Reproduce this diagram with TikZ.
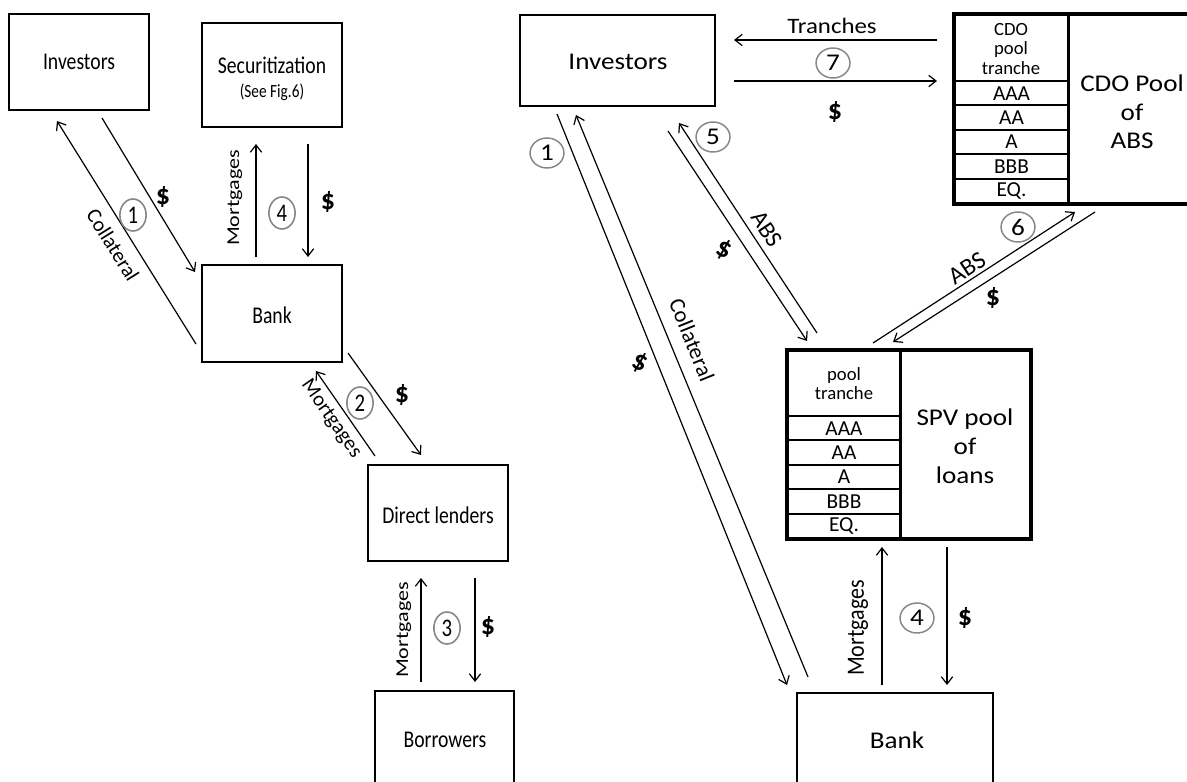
\documentclass[tikz,border=0pt]{standalone}
\usepackage{fontspec}
\setmainfont{Carlito}
\usetikzlibrary{arrows.meta,fit}
\definecolor{numgray}{RGB}{135,135,135}
\begin{document}
\begin{tikzpicture}[x=0.75pt,y=-0.75pt,
  box/.style={draw, line width=1.9pt, inner sep=0pt},
  cell/.style={draw, line width=1.4pt, inner sep=0pt},
  Lsc/.style={xscale=0.82},
  Rsc/.style={xscale=1.13},
  txt/.style={font=\fontsize{18}{21}\selectfont, inner sep=0pt, align=center},
  small/.style={font=\fontsize{14}{14.5}\selectfont, inner sep=0pt, align=center},
  tr/.style={font=\fontsize{16}{18}\selectfont, inner sep=0pt},
  lab/.style={font=\fontsize{16.5}{19}\selectfont, inner sep=0pt},
  dol/.style={font=\fontsize{21}{24}\selectfont\bfseries, inner sep=0pt},
  numL/.style={Lsc, circle, draw=numgray, line width=1.2pt, inner sep=0pt, minimum size=24pt, font=\fontsize{19}{22}\selectfont},
  numR/.style={Rsc, circle, draw=numgray, line width=1.1pt, inner sep=0pt, minimum size=22.5pt, font=\fontsize{18}{21}\selectfont},
  arr/.style={line width=0.9pt, -{Straight Barb[length=5.5pt,width=8.5pt]}}]
\useasboundingbox (0,0) rectangle (1187,781);
\fill[white] (0,0) rectangle (1187,781);
\clip (0,0) rectangle (1187,781);

% ---------------- LEFT PART ----------------
\node[box, fit={(9,14) (149,110)}] (inv1) {};
\node[Lsc, txt] (inv1t) at (79,62) {Investors};
\node[box, fit={(202,23) (342,127)}] (sec) {};
\node[Lsc, txt] (sect) at (272,65) {Securitization};
\node[Lsc, txt, font=\fontsize{14}{16}\selectfont] (secs) at (272,92) {(See Fig.6)};
\node[box, fit={(202,265) (342,362)}] (bank1) {};
\node[Lsc, txt] (bank1t) at (272,315) {Bank};
\node[box, fit={(368,465) (508,561)}] (dl) {};
\node[Lsc, txt] (dlt) at (438,515) {Direct lenders};
\node[box, fit={(375,691) (514,795)}] (bor) {};
\node[Lsc, txt] (bort) at (445,740) {Borrowers};

% arrows 1 (left)
\coordinate (l1a) at (196,344); \coordinate (l1b) at (57,121);
\coordinate (l1c) at (102,118); \coordinate (l1d) at (195,272);
\draw[arr] (l1a) -- (l1b);
\draw[arr] (l1c) -- (l1d);
\node[numL] (l1n) at (133,215) {1};
\node[dol] (l1s) at (163,197) {\$};
\node[lab, font=\fontsize{15.7}{18}\selectfont, rotate=-58] (l1l) at (113,245) {Collateral};

% arrows 4 (left)
\coordinate (l4a) at (256,257); \coordinate (l4b) at (256,144);
\coordinate (l4c) at (308,144); \coordinate (l4d) at (308,257);
\draw[arr] (l4a) -- (l4b);
\draw[arr] (l4c) -- (l4d);
\node[numL] (l4n) at (282,213) {4};
\node[dol] (l4s) at (328,202) {\$};
\node[Lsc, lab, rotate=90] (l4l) at (235,198) {Mortgages};

% arrows 2 (left)
\coordinate (l2a) at (375,456); \coordinate (l2b) at (316,371);
\coordinate (l2c) at (348,353); \coordinate (l2d) at (421,455);
\draw[arr] (l2a) -- (l2b);
\draw[arr] (l2c) -- (l2d);
\node[numL] (l2n) at (360,403) {2};
\node[dol] (l2s) at (402,395) {\$};
\node[lab, font=\fontsize{15.6}{18}\selectfont, rotate=-55] (l2l) at (331,419) {Mortgages};

% arrows 3 (left)
\coordinate (l3a) at (421,682); \coordinate (l3b) at (421,578);
\coordinate (l3c) at (475,578); \coordinate (l3d) at (475,682);
\draw[arr] (l3a) -- (l3b);
\draw[arr] (l3c) -- (l3d);
\node[numL] (l3n) at (447,628) {3};
\node[dol] (l3s) at (488,627) {\$};
\node[Lsc, lab, rotate=90] (l3l) at (404,630) {Mortgages};

% ---------------- RIGHT PART ----------------
\node[box, fit={(520,15) (715,106)}] (inv2) {};
\node[Rsc, txt] (inv2t) at (618,62) {Investors};

% CDO pool
\node[box, fit={(955,15) (1200,203)}] (cdo) {};
\node[cell, fit={(955,15) (1068,81)}] (cdoh) {};
\node[cell, fit={(955,81) (1068,105.4)}] (cdo1) {};
\node[cell, fit={(955,105.4) (1068,129.8)}] (cdo2) {};
\node[cell, fit={(955,129.8) (1068,154.2)}] (cdo3) {};
\node[cell, fit={(955,154.2) (1068,178.6)}] (cdo4) {};
\node[cell, fit={(955,178.6) (1068,203)}] (cdo5) {};
\draw[line width=1.9pt] (cdo.north west) rectangle (cdo.south east);
\draw[line width=1.6pt] (cdoh.north east) -- (cdo5.south east);
\node[small] (cdoht) at (1011,49) {CDO\\pool\\tranche};
\node[tr] (cdo1t) at (cdo1) {AAA};
\node[tr] (cdo2t) at (cdo2) {AA};
\node[tr] (cdo3t) at (cdo3) {A};
\node[tr] (cdo4t) at (cdo4) {BBB};
\node[tr] (cdo5t) at (cdo5) {EQ.};
\node[Rsc, txt, font=\fontsize{18}{21.3}\selectfont] (cdot) at (1132,112) {CDO Pool\\of\\ABS};

% SPV pool
\node[box, fit={(788,351) (1030,538)}] (spv) {};
\node[cell, fit={(788,351) (900,416)}] (spvh) {};
\node[cell, fit={(788,416) (900,440.4)}] (spv1) {};
\node[cell, fit={(788,440.4) (900,464.8)}] (spv2) {};
\node[cell, fit={(788,464.8) (900,489.2)}] (spv3) {};
\node[cell, fit={(788,489.2) (900,513.6)}] (spv4) {};
\node[cell, fit={(788,513.6) (900,538)}] (spv5) {};
\draw[line width=1.9pt] (spv.north west) rectangle (spv.south east);
\draw[line width=1.6pt] (spvh.north east) -- (spv5.south east);
\node[small] (spvht) at (spvh) {pool\\tranche};
\node[tr] (spv1t) at (spv1) {AAA};
\node[tr] (spv2t) at (spv2) {AA};
\node[tr] (spv3t) at (spv3) {A};
\node[tr] (spv4t) at (spv4) {BBB};
\node[tr] (spv5t) at (spv5) {EQ.};
\node[Rsc, txt, font=\fontsize{18}{21.8}\selectfont] (spvt) at (965,446) {SPV pool\\of\\loans};

% Bank (right)
\node[box, fit={(797,693) (993,795)}] (bank2) {};
\node[Rsc, txt] (bank2t) at (897,740) {Bank};

% arrows 7
\coordinate (r7a) at (937,40); \coordinate (r7b) at (734,40);
\coordinate (r7c) at (734,81); \coordinate (r7d) at (937,81);
\draw[arr] (r7a) -- (r7b);
\draw[arr] (r7c) -- (r7d);
\node[Rsc, lab] (r7l) at (832,26) {Tranches};
\node[numR] (r7n) at (833,63) {7};
\node[dol] (r7s) at (835,112) {\$};

% arrows 1 (right)
\coordinate (r1a) at (557,114); \coordinate (r1b) at (787,685);
\coordinate (r1c) at (808,677); \coordinate (r1d) at (576,115);
\draw[arr] (r1a) -- (r1b);
\draw[arr] (r1c) -- (r1d);
\node[numR] (r1n) at (547,153) {1};
\node[lab, font=\fontsize{16.8}{19}\selectfont, rotate=-68] (r1l) at (692,340) {Collateral};
\node[dol, rotate=-25] (r1s) at (640,363) {\$};

% arrows 5
\coordinate (r5a) at (668,131); \coordinate (r5b) at (807,341);
\coordinate (r5c) at (817,333); \coordinate (r5d) at (679,123);
\draw[arr] (r5a) -- (r5b);
\draw[arr] (r5c) -- (r5d);
\node[numR] (r5n) at (713,137) {5};
\node[lab, font=\fontsize{18}{20}\selectfont, rotate=-56.5] (r5l) at (767,229) {ABS};
\node[dol, rotate=-25] (r5s) at (724,250) {\$};

% arrows 6
\coordinate (r6a) at (873,343); \coordinate (r6b) at (1075,212);
\coordinate (r6c) at (1095,212); \coordinate (r6d) at (893,342);
\draw[arr] (r6a) -- (r6b);
\draw[arr] (r6c) -- (r6d);
\node[numR] (r6n) at (1018,227) {6};
\node[lab, font=\fontsize{18.5}{20}\selectfont, rotate=33] (r6l) at (967,268) {ABS};
\node[dol] (r6s) at (993,298) {\$};

% arrows 4 (right)
\coordinate (r4a) at (882,685); \coordinate (r4b) at (882,547);
\coordinate (r4c) at (947,547); \coordinate (r4d) at (947,685);
\draw[arr] (r4a) -- (r4b);
\draw[arr] (r4c) -- (r4d);
\node[numR] (r4n) at (917,618) {4};
\node[dol] (r4s) at (965,618) {\$};
\node[Rsc, lab, rotate=90] (r4l) at (858,628) {Mortgages};
\end{tikzpicture}
\end{document}
